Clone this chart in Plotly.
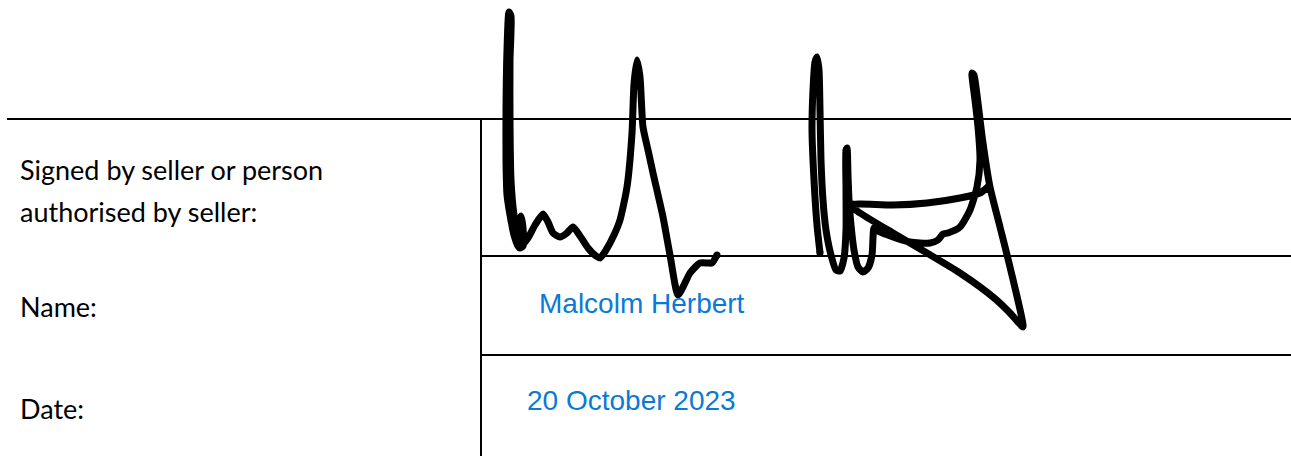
import plotly.graph_objects as go

# ---- content ----
label_lines_signed = ["Signed by seller or person", "authorised by seller:"]
label_name = "Name:"
label_date = "Date:"
value_name = "Malcolm Herbert"
value_date = "20 October 2023"

# ---- signature strokes (pixel coordinates of the ink trace) ----
sig_left_x = [519, 514, 511, 510, 510, 511, 509, 507, 506, 506, 507, 510, 514, 518, 520, 523, 523, 521,
              520, 522, 528, 535, 543, 548, 553, 560, 567, 573, 580, 588, 596, 600, 606, 614, 620, 627,
              632, 634, 637, 640, 643, 648, 653, 663, 670, 678, 684, 690, 700, 708, 712, 717]
sig_left_y = [240, 215, 180, 120, 60, 16, 12, 50, 110, 160, 195, 215, 235, 246, 248, 246, 228, 216,
              232, 245, 238, 225, 214, 222, 233, 237, 233, 227, 236, 248, 256, 258, 250, 235, 220, 187,
              133, 84, 60, 77, 127, 150, 173, 217, 255, 295, 285, 273, 263, 263, 263, 255]

sig_right_x = [820, 817, 814, 812, 813, 815, 817, 819, 820, 821, 823, 826, 831, 836, 840, 844, 846, 846,
               846, 847, 848, 849, 851, 854, 858, 863, 868, 872, 873, 874, 878, 893, 910, 930, 938, 943,
               948, 960, 970, 977, 980, 978, 975, 972, 974, 977, 983, 990, 1000, 1010, 1023, 1018, 1010,
               993, 960, 927, 893, 860, 850, 860, 893, 927, 960, 980, 988]
sig_right_y = [253, 225, 180, 130, 90, 62, 57, 70, 110, 160, 200, 230, 255, 270, 271, 258, 230, 190,
               150, 148, 175, 200, 225, 250, 267, 272, 268, 255, 238, 228, 231, 237, 242, 243, 240, 234,
               233, 227, 210, 187, 160, 127, 100, 73, 75, 95, 143, 187, 227, 267, 327, 322, 313,
               297, 273, 253, 233, 213, 205, 204, 205, 203, 198, 193, 187]

W, H = 1291, 456

fig = go.Figure()

for sx, sy, lw in [(sig_left_x, sig_left_y, 7), (sig_right_x, sig_right_y, 7)]:
    fig.add_trace(go.Scatter(x=sx, y=sy, mode="lines",
                             line=dict(color="black", width=lw, shape="spline", smoothing=0.6),
                             hoverinfo="skip", showlegend=False))
    fig.add_trace(go.Scatter(x=[sx[0], sx[-1]], y=[sy[0], sy[-1]], mode="markers",
                             marker=dict(color="black", size=lw), hoverinfo="skip", showlegend=False))

# table rules
line_style = dict(color="black", width=2)
fig.add_shape(type="line", x0=7, x1=W + 5, y0=119, y1=119, line=line_style, layer="below")
fig.add_shape(type="line", x0=481, x1=481, y0=119, y1=H + 5, line=line_style, layer="below")
fig.add_shape(type="line", x0=481, x1=W + 5, y0=256, y1=256, line=line_style, layer="below")
fig.add_shape(type="line", x0=481, x1=W + 5, y0=355, y1=355, line=line_style, layer="below")

label_font = dict(family="Lato, Carlito, Calibri, sans-serif", size=27, color="#000000")
value_font = dict(family="Liberation Sans, Arial, sans-serif", size=28, color="#0a7ad6")

def txt(x, y, s, font):
    fig.add_annotation(x=x, y=y, text=s, showarrow=False, xanchor="left", yanchor="middle",
                       font=font, xref="x", yref="y")

txt(18, 169, label_lines_signed[0], label_font)
txt(18, 211, label_lines_signed[1], label_font)
txt(18, 306, label_name, label_font)
txt(18, 408, label_date, label_font)
txt(537, 303.5, value_name, value_font)
txt(525, 400, value_date, value_font)

fig.update_layout(width=W, height=H, margin=dict(l=0, r=0, t=0, b=0),
                  paper_bgcolor="white", plot_bgcolor="white")
fig.update_xaxes(range=[0, W], visible=False, fixedrange=True)
fig.update_yaxes(range=[H, 0], visible=False, fixedrange=True)

fig.write_html(
    "out.html",
    config={"displayModeBar": False, "responsive": False},
    post_script="document.body.style.margin='0';document.body.style.overflow='hidden';",
)
